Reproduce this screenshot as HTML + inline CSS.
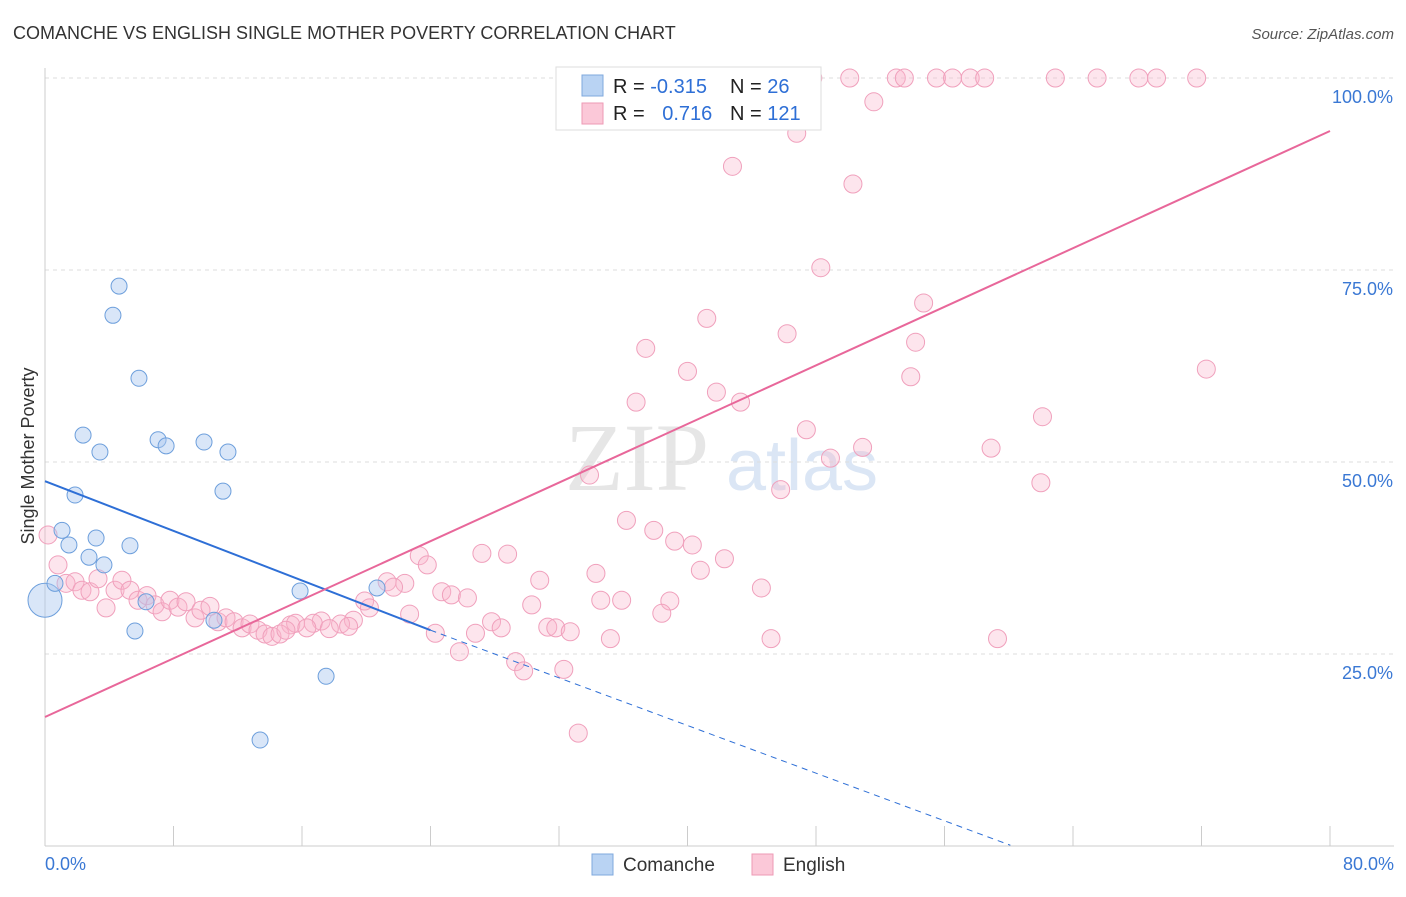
<!DOCTYPE html>
<html><head><meta charset="utf-8"><style>
body{margin:0;background:#fff;font-family:"Liberation Sans",sans-serif;}
</style></head><body>
<svg id="chart" width="1406" height="892" xmlns="http://www.w3.org/2000/svg" style="font-family:'Liberation Sans',sans-serif">
<text x="13" y="39" font-size="18" fill="#333">COMANCHE VS ENGLISH SINGLE MOTHER POVERTY CORRELATION CHART</text>
<text x="1394" y="39" font-size="15" fill="#555" text-anchor="end" font-style="italic">Source: ZipAtlas.com</text>
<text x="637" y="490" font-size="96" fill="#e6e6e6" font-family="Liberation Serif" text-anchor="middle">ZIP</text>
<text x="802" y="490" font-size="72" fill="#dbe6f5" text-anchor="middle">atlas</text>
<g id="grid"></g><g id="axes"></g><g id="pts"></g><g id="lines"></g>
<text transform="translate(34,456) rotate(-90)" font-size="18" fill="#333" text-anchor="middle">Single Mother Poverty</text>
<g>
<rect x="556" y="67" width="265" height="63" fill="#fff" stroke="#ddd"/>
<rect x="582" y="75" width="21" height="21" fill="#b9d3f3" stroke="#7fa8de"/>
<rect x="582" y="103" width="21" height="21" fill="#fbc8d8" stroke="#ee9ab5"/>
<text x="613" y="93" font-size="20" fill="#222">R = <tspan fill="#2e6fd6">-0.315</tspan></text>
<text x="730" y="93" font-size="20" fill="#222">N = <tspan fill="#2e6fd6"> 26</tspan></text>
<text x="613" y="120" font-size="20" fill="#222">R = <tspan fill="#2e6fd6" dx="12">0.716</tspan></text>
<text x="730" y="120" font-size="20" fill="#222">N = <tspan fill="#2e6fd6">121</tspan></text>
</g>
<g>
<rect x="592" y="854" width="21" height="21" fill="#b9d3f3" stroke="#7fa8de"/>
<text x="623" y="871" font-size="19" fill="#333">Comanche</text>
<rect x="752" y="854" width="21" height="21" fill="#fbc8d8" stroke="#ee9ab5"/>
<text x="783" y="871" font-size="19" fill="#333">English</text>
</g>
</svg>
<script>
const blueX=[0,0.62,1.06,1.49,1.87,2.37,2.74,3.18,3.42,3.67,4.61,4.23,5.29,5.60,5.85,6.29,7.04,7.54,9.90,10.52,11.08,11.39,15.88,17.50,13.39,20.67];
const blueY=[32.0,34.2,41.1,39.2,45.7,53.5,37.6,40.1,51.3,36.6,72.9,69.1,39.1,28.0,60.9,31.8,52.9,52.1,52.6,29.4,46.2,51.3,33.2,22.1,13.8,33.6];
const pinkX=[44.3,47.8,50.1,53.0,53.5,55.5,56.5,57.6,58.5,62.9,65.5,68.1,69.2,71.7,
51.6,46.8,42.8,50.3,48.3,54.7,41.2,46.2,54.2,37.4,40.0,53.9,72.3,41.8,43.3,36.8,62.1,47.4,58.9,50.9,48.9,33.9,45.8,62.0,36.2,37.9,39.2,40.3,27.2,28.8,23.3,23.8,42.3,40.8,34.3,30.8,21.3,22.4,21.7,44.6,24.7,25.3,26.3,34.6,35.9,38.9,30.3,19.9,20.2,38.4,22.7,19.2,17.2,16.7,15.3,15.6,18.4,18.9,17.7,16.3,27.8,28.4,31.3,31.8,32.7,26.8,24.3,35.2,45.2,59.3,25.8,29.3,29.8,32.3,33.2,
0.19,0.81,1.31,1.87,2.30,2.80,3.30,3.80,4.36,4.79,5.29,5.79,6.35,6.85,7.29,7.78,8.28,8.78,9.34,9.71,10.27,10.77,11.27,11.77,12.27,12.76,13.26,13.70,14.13,14.63,15.00];
const pinkY=[100,100,100,100,100,100,100,100,100,100,100,100,100,100,
96.9,92.8,88.5,86.2,75.3,70.7,68.7,66.7,65.6,64.8,61.8,61.1,62.1,59.1,57.8,57.8,55.9,54.2,51.8,51.9,50.5,48.3,46.4,47.3,42.4,41.1,39.7,39.2,38.1,38.0,37.8,36.6,37.4,35.9,35.5,34.6,34.4,34.2,33.7,33.6,33.1,32.7,32.3,32.0,32.0,31.9,31.4,31.9,31.0,30.3,30.2,29.4,29.3,29.0,28.8,29.0,28.9,28.6,28.3,28.4,29.2,28.4,28.5,28.4,27.9,27.7,27.7,27.0,27.0,27.0,25.3,24.0,22.8,23.0,14.7,
40.5,36.6,34.2,34.4,33.3,33.1,34.8,31.0,33.3,34.6,33.3,32.0,32.6,31.4,30.5,32.0,31.1,31.8,29.7,30.7,31.2,29.2,29.7,29.2,28.4,28.9,28.1,27.6,27.3,27.6,28.1];
const yTicks=[25,50,75,100];
const xTickLabels=["0.0%","80.0%"];
const blueTrend=[[0,47.5],[24.0,28.1],[60.1,0.1]];
const pinkTrend=[[0,16.8],[80,93.1]];
const NS="http://www.w3.org/2000/svg";
const X=v=>45+v/80*1285, Y=v=>846-v/25*192;
function mk(t,a,p){const e=document.createElementNS(NS,t);for(const k in a)e.setAttribute(k,a[k]);p.appendChild(e);return e;}
const grid=document.getElementById('grid'),axes=document.getElementById('axes'),pts=document.getElementById('pts'),lines=document.getElementById('lines');
yTicks.forEach(t=>{
  const l=mk('line',{x1:45,x2:1394,y1:Y(t),y2:Y(t),stroke:'#ddd','stroke-dasharray':'4,4'},grid);
  
  
  const tx=mk('text',{x:1393,y:Y(t)+25,'font-size':18,fill:'#3a78d4','text-anchor':'end'},axes);
  tx.textContent=t.toFixed(1)+'%';
  
  
});
const ax=mk('line',{x1:45,x2:1394,y1:846,y2:846,stroke:'#ccc'},axes);


const ay=mk('line',{x1:45,x2:45,y1:68,y2:846,stroke:'#ccc'},axes);


for(let i=0;i<=10;i++){const t=mk('line',{x1:X(i*8),x2:X(i*8),y1:826,y2:846,stroke:'#ccc'},axes);
  
  }
[[0,'start',45],[80,'end',1394]].forEach((d,i)=>{const t=mk('text',{x:d[2],y:870,'font-size':18,fill:'#3a78d4','text-anchor':d[1]},axes);t.textContent=xTickLabels[i];
  
  });
pinkX.forEach((x,i)=>{const c=mk('circle',{cx:X(x),cy:Y(pinkY[i]),r:9,fill:'rgba(248,180,204,0.35)',stroke:'#f0a0bc','stroke-width':1},pts);
  
  });
blueX.forEach((x,i)=>{const c=mk('circle',{cx:X(x),cy:Y(blueY[i]),r:i===0?17:8,fill:'rgba(170,200,240,0.45)',stroke:'#6d9fdc','stroke-width':1},pts);
  
  });
const b1=mk('line',{x1:X(blueTrend[0][0]),y1:Y(blueTrend[0][1]),x2:X(blueTrend[1][0]),y2:Y(blueTrend[1][1]),stroke:'#2e6fd6','stroke-width':2},lines);


const b2=mk('line',{x1:X(blueTrend[1][0]),y1:Y(blueTrend[1][1]),x2:X(blueTrend[2][0]),y2:Y(blueTrend[2][1]),stroke:'#2e6fd6','stroke-width':1,'stroke-dasharray':'6,5'},lines);


const p1=mk('line',{x1:X(pinkTrend[0][0]),y1:Y(pinkTrend[0][1]),x2:X(pinkTrend[1][0]),y2:Y(pinkTrend[1][1]),stroke:'#e8679a','stroke-width':2},lines);


</script>
</body></html>
